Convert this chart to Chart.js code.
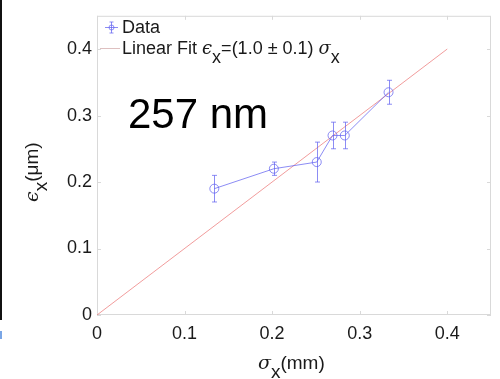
<!DOCTYPE html>
<html>
<head>
<meta charset="utf-8">
<script src="https://cdn.jsdelivr.net/npm/chart.js@4.4.1/dist/chart.umd.min.js"></script>
<style>
  body{margin:0;background:#fff;}
  #wrap{position:relative;width:500px;height:379px;}
  #edge{position:absolute;left:0;top:0;width:2px;height:320px;background:#111;}
  #blip{position:absolute;left:0;top:331px;width:2px;height:8px;background:#7aa6e6;}
</style>
</head>
<body>
<div id="wrap">
  <canvas id="chart"></canvas>
  <div id="edge"></div><div id="blip"></div>
</div>
<script>
/* ---- data ---- */
const sigmaX   = [0.134, 0.202, 0.251, 0.269, 0.283, 0.333];   // mm
const epsX     = [0.190, 0.220, 0.230, 0.270, 0.270, 0.335];   // um
const epsErr   = [0.020, 0.010, 0.030, 0.020, 0.020, 0.018];
const fitX     = [0, 0.4];
const fitY     = [0, 0.4];
const xTicks   = [0, 0.1, 0.2, 0.3, 0.4];
const xLabels  = ['0', '0.1', '0.2', '0.3', '0.4'];
const yTicks   = [0, 0.1, 0.2, 0.3, 0.4];
const yLabels  = ['0', '0.1', '0.2', '0.3', '0.4'];
const bigNote  = '257 nm';

/* ---- look ---- */
const SANS  = '"Liberation Sans", Arial, Helvetica, sans-serif';
const SERIF = '"DejaVu Serif", "Liberation Serif", serif';
const BLUE  = 'rgba(95,95,240,0.72)';
const RED   = 'rgba(232,95,95,0.62)';
const BOX   = '#d9d9d9';
const INK   = '#1a1a1a';

/* draw text with subscripts: segs = [{t, sub, it}] */
function rich(ctx, segs, x, y, size){
  ctx.textBaseline = 'alphabetic'; ctx.textAlign = 'left';
  for(const s of segs){
    ctx.font = (s.it ? 'italic ' : '') + size + 'px ' + (s.it ? SERIF : SANS);
    const dy = s.sub ? size*0.48 : 0;
    ctx.fillText(s.t, x, y + dy);
    x += ctx.measureText(s.t).width + (s.gap||0);
  }
}

/* box + inward ticks, error bars, legend, labels */
const deco = {
  id:'deco',
  beforeDatasetsDraw(c){
    const {ctx, chartArea:a, scales:{x, y}} = c;
    ctx.save();
    ctx.strokeStyle = BOX; ctx.lineWidth = 1;
    ctx.strokeRect(a.left+0.5, a.top+0.5, a.right-a.left-1, a.bottom-a.top-1);
    ctx.beginPath();
    xTicks.forEach(v=>{
      const px = Math.round(x.getPixelForValue(v))+0.5;
      ctx.moveTo(px, a.bottom); ctx.lineTo(px, a.bottom-4);
      ctx.moveTo(px, a.top);    ctx.lineTo(px, a.top+4);
    });
    yTicks.forEach(v=>{
      const py = Math.round(y.getPixelForValue(v))+0.5;
      ctx.moveTo(a.left, py);  ctx.lineTo(a.left+4, py);
      ctx.moveTo(a.right, py); ctx.lineTo(a.right-4, py);
    });
    ctx.stroke();
    ctx.restore();
  },
  afterDatasetsDraw(c){
    const {ctx, chartArea:a, scales:{x, y}} = c;
    ctx.save();
    // error bars
    ctx.strokeStyle = BLUE; ctx.lineWidth = 1;
    ctx.beginPath();
    sigmaX.forEach((sx,i)=>{
      const px = Math.round(x.getPixelForValue(sx))+0.5;
      const y1 = y.getPixelForValue(epsX[i]+epsErr[i]);
      const y2 = y.getPixelForValue(epsX[i]-epsErr[i]);
      ctx.moveTo(px, y1); ctx.lineTo(px, y2);
      ctx.moveTo(px-2.5, y1); ctx.lineTo(px+2.5, y1);
      ctx.moveTo(px-2.5, y2); ctx.lineTo(px+2.5, y2);
    });
    ctx.stroke();

    // legend
    ctx.beginPath();
    ctx.moveTo(105, 27.5); ctx.lineTo(118, 27.5);
    ctx.moveTo(111.5, 22); ctx.lineTo(111.5, 33);
    ctx.moveTo(109.5, 22); ctx.lineTo(113.5, 22);
    ctx.moveTo(109.5, 33); ctx.lineTo(113.5, 33);
    ctx.stroke();
    ctx.beginPath(); ctx.arc(111.5, 27.5, 2.5, 0, Math.PI*2); ctx.stroke();
    ctx.strokeStyle = 'rgba(200,150,150,0.6)';
    ctx.beginPath(); ctx.moveTo(100, 48.5); ctx.lineTo(120, 48.5); ctx.stroke();

    ctx.fillStyle = INK;
    rich(ctx, [{t:'Data'}], 122, 33, 18);
    rich(ctx, [{t:'Linear Fit '}, {t:'ϵ', it:true}, {t:'x', sub:true},
               {t:'=(1.0 ± 0.1) '}, {t:'σ', it:true}, {t:'x', sub:true}], 122, 54, 18);

    // big note
    ctx.fillStyle = '#000';
    ctx.font = '42px ' + SANS;
    ctx.fillText(bigNote, 128, 128);

    // axis titles
    ctx.fillStyle = INK;
    rich(ctx, [{t:'σ', it:true}, {t:'x', sub:true}, {t:'(mm)'}], 258, 369, 19);
    ctx.translate(38, 202); ctx.rotate(-Math.PI/2);
    rich(ctx, [{t:'ϵ', it:true}, {t:'x', sub:true}, {t:'(μm)'}], 0, 0, 19);
    ctx.restore();
  }
};

new Chart(document.getElementById('chart'), {
  type:'scatter',
  data:{
    datasets:[
      {
        label:'Data',
        data: sigmaX.map((v,i)=>({x:v, y:epsX[i]})),
        showLine:true, borderColor:BLUE, borderWidth:1,
        pointStyle:'circle', pointRadius:4.5, pointBorderWidth:1,
        pointBorderColor:BLUE, pointBackgroundColor:'rgba(0,0,0,0)'
      },
      {
        label:'Linear Fit',
        data: fitX.map((v,i)=>({x:v, y:fitY[i]})),
        showLine:true, borderColor:RED, borderWidth:1, pointRadius:0
      }
    ]
  },
  options:{
    responsive:true, maintainAspectRatio:false, animation:false,
    layout:{padding:{top:5, right:9, left:0, bottom:0}},
    plugins:{legend:{display:false}, tooltip:{enabled:false}},
    scales:{
      x:{
        type:'linear', min:0, max:0.45,
        grid:{display:false, drawTicks:false}, border:{display:false},
        afterBuildTicks: s => { s.ticks = xTicks.map(v=>({value:v})); },
        afterFit: s => { s.height = 64; },
        ticks:{padding:8, color:INK, font:{family:SANS, size:18}, maxRotation:0,
               callback:(v)=> xLabels[xTicks.indexOf(v)]}
      },
      y:{
        type:'linear', min:0, max:0.45,
        grid:{display:false, drawTicks:false}, border:{display:false},
        afterBuildTicks: s => { s.ticks = yTicks.map(v=>({value:v})); },
        afterFit: s => { s.width = 97; },
        ticks:{padding:5, color:INK, font:{family:SANS, size:18},
               callback:(v)=> yLabels[yTicks.indexOf(v)]}
      }
    }
  },
  plugins:[deco]
});
</script>
</body>
</html>
